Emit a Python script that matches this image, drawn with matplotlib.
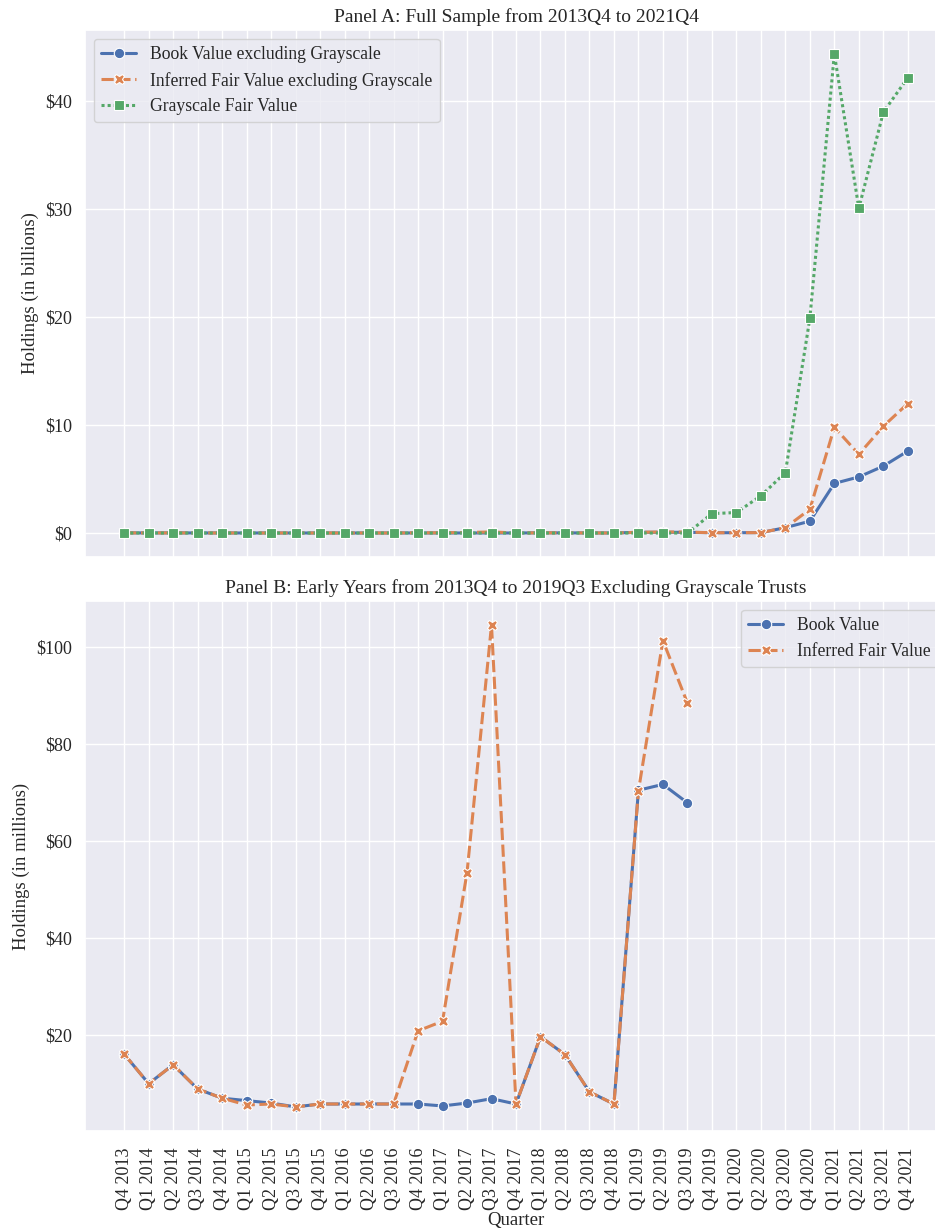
import matplotlib
matplotlib.use("Agg")
import matplotlib.pyplot as plt
import seaborn as sns
from matplotlib.ticker import FuncFormatter

sns.set_theme(style="darkgrid", palette="deep")
plt.rcParams['font.family'] = 'serif'
plt.rcParams['font.serif'] = ['Liberation Serif', 'DejaVu Serif']

# Quarters on the shared x axis
quarters = ['Q4 2013',
            'Q1 2014', 'Q2 2014', 'Q3 2014', 'Q4 2014',
            'Q1 2015', 'Q2 2015', 'Q3 2015', 'Q4 2015',
            'Q1 2016', 'Q2 2016', 'Q3 2016', 'Q4 2016',
            'Q1 2017', 'Q2 2017', 'Q3 2017', 'Q4 2017',
            'Q1 2018', 'Q2 2018', 'Q3 2018', 'Q4 2018',
            'Q1 2019', 'Q2 2019', 'Q3 2019', 'Q4 2019',
            'Q1 2020', 'Q2 2020', 'Q3 2020', 'Q4 2020',
            'Q1 2021', 'Q2 2021', 'Q3 2021', 'Q4 2021']

# Panel B: early years, in millions (Q4 2013 - Q3 2019)
book_early = [16.0, 9.9, 13.8, 8.8, 6.9, 6.4, 5.9, 5.1, 5.7, 5.7, 5.7, 5.7,
              5.7, 5.3, 5.9, 6.8, 5.7, 19.6, 15.9, 8.2, 5.7, 70.5, 71.7, 67.9]
fair_early = [16.0, 9.9, 13.8, 8.8, 6.9, 5.5, 5.7, 5.1, 5.7, 5.7, 5.7, 5.7,
              20.8, 22.8, 53.5, 104.6, 5.7, 19.6, 15.9, 8.2, 5.7, 70.4, 101.4, 88.5]

# Panel A: full sample, in billions
book_full = [v / 1000 for v in book_early] + [0.03, 0.03, 0.04, 0.5, 1.1, 4.6, 5.2, 6.2, 7.6]
fair_full = [v / 1000 for v in fair_early] + [0.03, 0.03, 0.04, 0.5, 2.2, 9.8, 7.3, 9.9, 12.0]
grayscale_full = [0.0] * 24 + [1.8, 1.9, 3.45, 5.6, 19.9, 44.4, 30.1, 39.0, 42.2]

BLUE, ORANGE, GREEN = '#4C72B0', '#DD8452', '#55A868'

W, H = 935, 1230
fig = plt.figure(figsize=(W / 100, H / 100), dpi=100)
left = 85 / W
width = (947 - 85) / W  # right edge runs past the crop, as in the original
ax1 = fig.add_axes([left, (H - 557) / H, width, 527 / H])
ax2 = fig.add_axes([left, (H - 1131) / H, width, 530 / H], sharex=ax1)

line_kw = dict(lw=2.2, mec='white', mew=0.8)

x_full = list(range(len(quarters)))
x_early = list(range(len(book_early)))

ax1.plot(x_full, book_full, color=BLUE, marker='o', ls='-', ms=7.5,
         label='Book Value excluding Grayscale', **line_kw)
ax1.plot(x_full, fair_full, color=ORANGE, marker='X', dashes=(4, 1.5), ms=7.5,
         label='Inferred Fair Value excluding Grayscale', **line_kw)
ax1.plot(x_full, grayscale_full, color=GREEN, marker='s', dashes=(1, 1), ms=6.5,
         label='Grayscale Fair Value', **line_kw)

ax2.plot(x_early, book_early, color=BLUE, marker='o', ls='-', ms=7.5,
         label='Book Value', **line_kw)
ax2.plot(x_early, fair_early, color=ORANGE, marker='X', dashes=(4, 1.5), ms=7.5,
         label='Inferred Fair Value', **line_kw)

fmt = FuncFormatter(lambda v, p: '\\$%d' % v)
for ax in (ax1, ax2):
    ax.yaxis.set_major_formatter(fmt)
    ax.tick_params(labelsize=13)
    ax.set_xlim(-1.6, len(quarters) - 1 + 1.6)

ax2.set_xticks(x_full)
ax2.set_xticklabels(quarters, rotation=90)
ax2.tick_params(axis='x', pad=6)
plt.setp(ax1.get_xticklabels(), visible=False)

ax1.set_title('Panel A: Full Sample from 2013Q4 to 2021Q4', fontsize=14)
ax2.set_title('Panel B: Early Years from 2013Q4 to 2019Q3 Excluding Grayscale Trusts',
              fontsize=14)
ax1.set_ylabel('Holdings (in billions)', fontsize=13.5)
ax2.set_ylabel('Holdings (in millions)', fontsize=13.5)
ax2.set_xlabel('Quarter', fontsize=13.5, labelpad=1)

ax1.legend(loc='upper left', fontsize=12.7)
ax2.legend(loc='upper right', fontsize=12.7)

fig.savefig('out.png', dpi=100)
